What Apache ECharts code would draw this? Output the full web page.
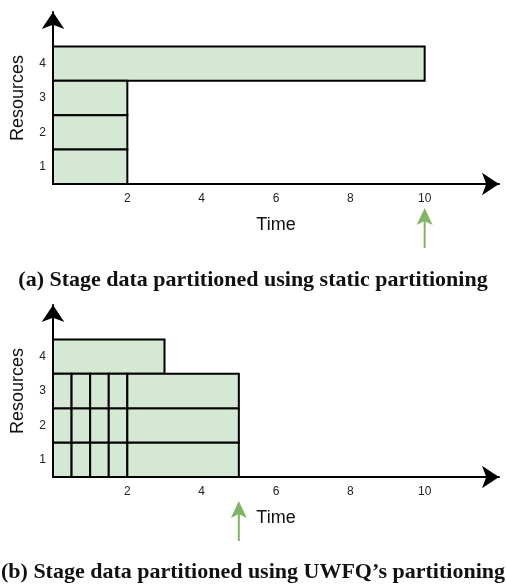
<!DOCTYPE html>
<html>
<head>
<meta charset="utf-8">
<script src="https://cdn.jsdelivr.net/npm/echarts@6/dist/echarts.min.js"></script>
<style>
  html, body { margin: 0; padding: 0; background: #fff; }
  #chart { width: 506px; height: 586px; }
</style>
</head>
<body>
<div id="chart"></div>
<script>
// tick labels
const timeTicks = [2, 4, 6, 8, 10];
const resourceLabels = ['1', '2', '3', '4'];

// (a) static partitioning: one block per row
const staticRows = [4, 3, 2, 1];
const staticStart = [0, 0, 0, 0];
const staticEnd = [10, 2, 2, 2];

// (b) UWFQ partitioning
const uwfqTopRow = 4;
const uwfqTopStart = 0;
const uwfqTopEnd = 3;
const uwfqRows = [1, 2, 3];
const uwfqSplits = [0, 0.5, 1, 1.5, 2, 5];

// finish time markers (green arrows)
const finishTimes = [10, 5];

const captions = [
    '(a) Stage data partitioned using static partitioning',
    '(b) Stage data partitioned using UWFQ\u2019s partitioning'
];

const fill = '#d5e8d4';
const green = '#82b366';

const staticBlocks = staticRows.map((r, i) => [staticStart[i], staticEnd[i], r]);
const uwfqBlocks = [[uwfqTopStart, uwfqTopEnd, uwfqTopRow]];
uwfqRows.forEach(r => {
    for (let i = 0; i < uwfqSplits.length - 1; i++) {
        uwfqBlocks.push([uwfqSplits[i], uwfqSplits[i + 1], r]);
    }
});

const chart = echarts.init(document.getElementById('chart'), null, { renderer: 'canvas' });

function blockItem(params, api) {
    const p0 = api.coord([api.value(0), api.value(2)]);
    const p1 = api.coord([api.value(1), api.value(2) - 1]);
    return {
        type: 'rect',
        shape: { x: p0[0], y: p0[1], width: p1[0] - p0[0], height: p1[1] - p0[1] },
        style: { fill: fill, stroke: '#000', lineWidth: 2 }
    };
}

// arrow under the x axis pointing at the finish time
function arrowItem(params, api) {
    const p = api.coord([api.value(0), 0]);
    const x = p[0], y = p[1];
    return {
        type: 'group',
        children: [
            { type: 'line', shape: { x1: x, y1: y + 36, x2: x, y2: y + 64 },
              style: { stroke: green, lineWidth: 2 } },
            { type: 'polygon', shape: { points: [[x, y + 24], [x - 8, y + 41], [x, y + 37], [x + 8, y + 41]] },
              style: { fill: green } }
        ]
    };
}

const axisText = { color: '#222', fontFamily: 'Liberation Sans', fontSize: 12 };
const nameText = { color: '#111', fontFamily: 'Liberation Sans', fontSize: 18 };

function xAxis(gridIndex) {
    return {
        gridIndex, type: 'value', min: 0, max: 12, interval: 2,
        name: 'Time', nameLocation: 'middle', nameGap: 32, nameTextStyle: nameText,
        axisLine: { lineStyle: { color: '#000', width: 2 }, symbol: ['none', 'arrow'], symbolSize: [17, 17] },
        axisTick: { show: false },
        splitLine: { show: false },
        axisLabel: Object.assign({ margin: 9, formatter: v => timeTicks.includes(v) ? String(v) : '' }, axisText)
    };
}

function yAxis(gridIndex) {
    return {
        gridIndex, type: 'value', min: 0, max: 5, interval: 0.5,
        name: 'Resources', nameLocation: 'middle', nameGap: 26, nameTextStyle: nameText,
        axisLine: { show: true, lineStyle: { color: '#000', width: 2 }, symbol: ['none', 'arrow'], symbolSize: [17, 17] },
        axisTick: { show: false },
        splitLine: { show: false },
        axisLabel: Object.assign({ margin: 7, formatter: v => {
            const i = v - 0.5;
            return Number.isInteger(i) && i >= 0 && i < resourceLabels.length ? resourceLabels[i] : '';
        } }, axisText)
    };
}

chart.setOption({
    animation: false,
    title: captions.map((t, i) => ({
        text: t, left: 'center', top: i === 0 ? 264 : 556,
        textStyle: { fontFamily: 'Liberation Serif', fontWeight: 'bold', fontSize: 22, color: '#111' }
    })),
    grid: [
        { left: 53, top: 12, width: 446, height: 172 },
        { left: 53, top: 305, width: 446, height: 172 }
    ],
    xAxis: [xAxis(0), xAxis(1)],
    yAxis: [yAxis(0), yAxis(1)],
    series: [
        { type: 'custom', xAxisIndex: 0, yAxisIndex: 0, renderItem: blockItem, data: staticBlocks, clip: false },
        { type: 'custom', xAxisIndex: 1, yAxisIndex: 1, renderItem: blockItem, data: uwfqBlocks, clip: false },
        { type: 'custom', xAxisIndex: 0, yAxisIndex: 0, renderItem: arrowItem, data: [[finishTimes[0]]], clip: false },
        { type: 'custom', xAxisIndex: 1, yAxisIndex: 1, renderItem: arrowItem, data: [[finishTimes[1]]], clip: false }
    ]
});
</script>
</body>
</html>
